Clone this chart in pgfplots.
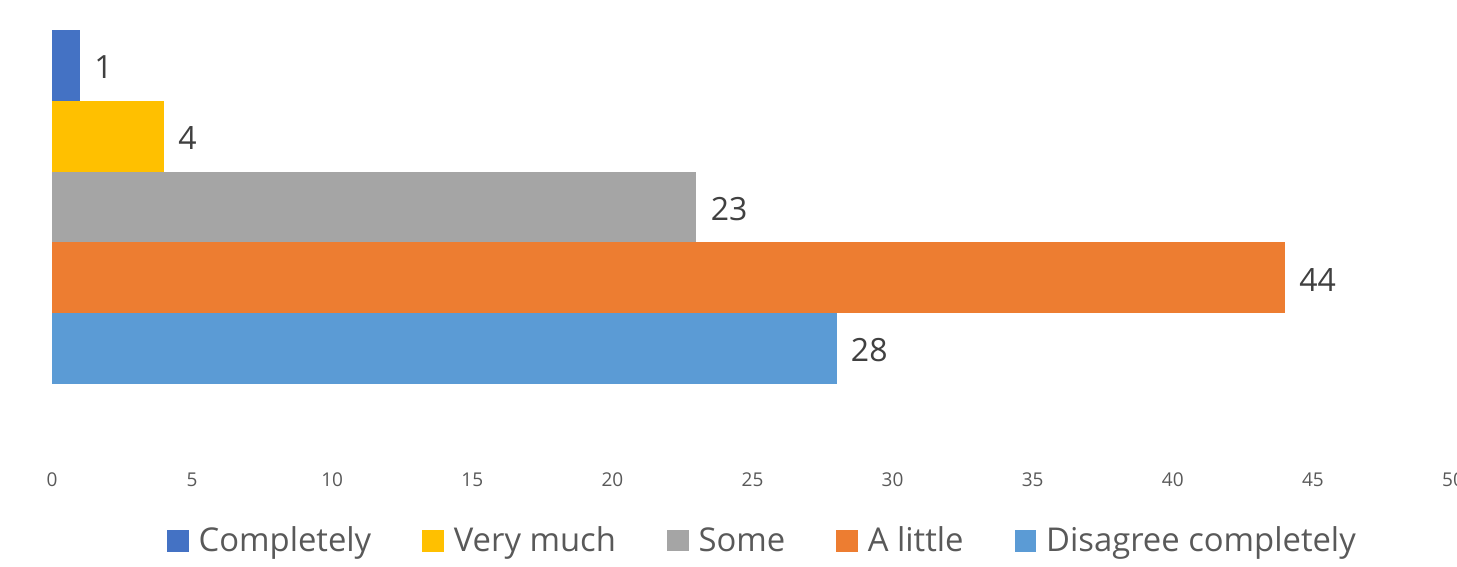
\documentclass[border=0pt]{standalone}
\usepackage{fontspec}
\setmainfont{Open Sans}
\usepackage{pgfplots}
\pgfplotsset{compat=1.18}
\definecolor{cA}{HTML}{4472C4}
\definecolor{cB}{HTML}{FFC000}
\definecolor{cC}{HTML}{A5A5A5}
\definecolor{cD}{HTML}{ED7D31}
\definecolor{cE}{HTML}{5B9BD5}
\definecolor{lab}{HTML}{404040}
\definecolor{tick}{HTML}{595959}
\newcommand{\sq}[1]{\textcolor{#1}{\rule{10.8pt}{10.8pt}}\hspace{5pt}}
\begin{document}
\begin{tikzpicture}
\begin{axis}[
  at={(26pt,52.65pt)}, anchor=south west,
  scale only axis, width=700.5pt, height=229.95pt,
  xmin=0, xmax=50, ymin=-0.6, ymax=5.9,
  xtick={0,5,...,50}, ytick=\empty,
  axis line style={draw=none}, major tick style={draw=none},
  /pgf/number format/assume math mode=true,
  xticklabel style={font=\fontsize{9.5}{11}\selectfont, text=tick, anchor=base, yshift=-12.4pt},
  legend columns=5,
  legend style={draw=none, fill=none, at={(0.5064,-0.1724)}, anchor=center,
    font=\fontsize{16.4}{19}\selectfont, text=tick, column sep=0pt,
    /tikz/every even column/.append style={column sep=25.5pt},
    nodes={inner sep=0pt}},
  legend image code/.code={},
  point meta=x,
  nodes near coords,
  every node near coord/.append style={font=\fontsize{16}{19}\selectfont, text=lab, anchor=west, inner sep=0pt, xshift=7pt, yshift=-1pt},
]
\addplot[xbar, bar width=1, fill=cA, draw=none] coordinates {(1,5)};
\addlegendentry{\sq{cA}Completely}
\addplot[xbar, bar width=1, fill=cB, draw=none] coordinates {(4,4)};
\addlegendentry{\sq{cB}Very much}
\addplot[xbar, bar width=1, fill=cC, draw=none] coordinates {(23,3)};
\addlegendentry{\sq{cC}Some}
\addplot[xbar, bar width=1, fill=cD, draw=none] coordinates {(44,2)};
\addlegendentry{\sq{cD}A little}
\addplot[xbar, bar width=1, fill=cE, draw=none] coordinates {(28,1)};
\addlegendentry{\sq{cE}Disagree completely}
\end{axis}
\pgfresetboundingbox
\path[use as bounding box] (0,0) rectangle (728.5pt,283.5pt);
\end{tikzpicture}
\end{document}
